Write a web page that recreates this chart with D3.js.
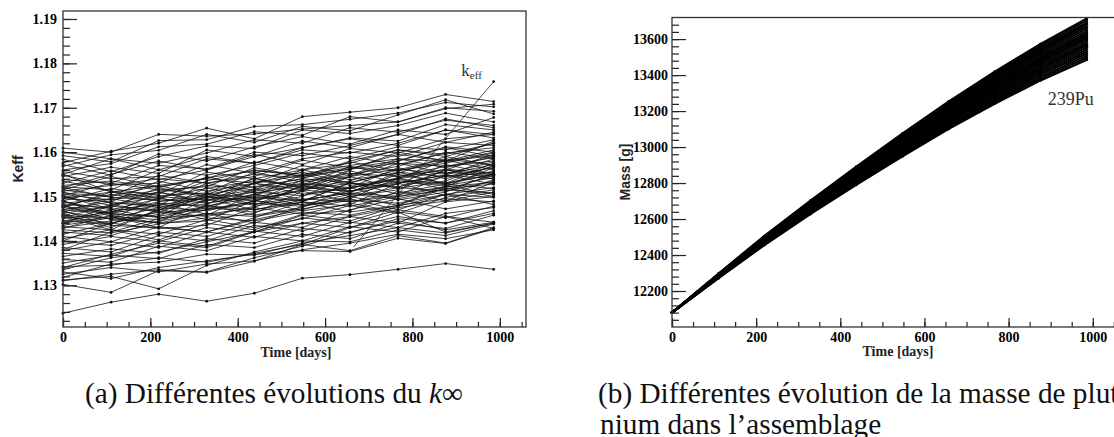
<!DOCTYPE html>
<html>
<head>
<meta charset="utf-8">
<script src="https://cdn.jsdelivr.net/npm/d3@7"></script>
<style>
  body { margin: 0; background: #fff; }
  svg { display: block; }
  .tick line { stroke: #222; stroke-width: 1.2; }
  .domain { display: none; }
</style>
</head>
<body>
<svg id="chart" width="1114" height="437"></svg>
<script>
/* DATA */
const times = [0, 110, 219, 329, 438, 548, 657, 767, 876, 986];

// k-eff runs, one array per run, one value per time step
const keffRuns = [
  [1.1609,1.1600,1.1640,1.1636,1.1641,1.1652,1.1660,1.1668,1.1700,1.1692],
  [1.1576,1.1602,1.1620,1.1654,1.1630,1.1680,1.1690,1.1700,1.1730,1.1714],
  [1.1592,1.1578,1.1626,1.1628,1.1658,1.1662,1.1674,1.1688,1.1712,1.1702],
  [1.1568,1.1594,1.1604,1.1640,1.1622,1.1658,1.1648,1.1684,1.1718,1.1686],
  [1.1560,1.1574,1.1612,1.1618,1.1646,1.1638,1.1680,1.1668,1.1698,1.1708],
  [1.1584,1.1556,1.1590,1.1614,1.1608,1.1650,1.1642,1.1660,1.1688,1.1668],
  [1.1550,1.1585,1.1575,1.1598,1.1628,1.1620,1.1655,1.1645,1.1672,1.1660],
  [1.1572,1.1548,1.1596,1.1580,1.1612,1.1635,1.1618,1.1650,1.1640,1.1678],
  [1.1545,1.1566,1.1552,1.1605,1.1590,1.1610,1.1632,1.1625,1.1662,1.1650],
  [1.1538,1.1530,1.1570,1.1562,1.1600,1.1592,1.1615,1.1640,1.1622,1.1645],
  [1.1556,1.1540,1.1545,1.1585,1.1575,1.1605,1.1598,1.1620,1.1650,1.1632],
  [1.1530,1.1558,1.1538,1.1560,1.1595,1.1572,1.1608,1.1598,1.1630,1.1640],
  [1.1522,1.1515,1.1560,1.1548,1.1570,1.1598,1.1585,1.1612,1.1605,1.1628],
  [1.1548,1.1526,1.1530,1.1572,1.1552,1.1585,1.1600,1.1590,1.1622,1.1615],
  [1.1515,1.1545,1.1522,1.1540,1.1578,1.1560,1.1575,1.1605,1.1595,1.1620],
  [1.1508,1.1500,1.1548,1.1530,1.1545,1.1582,1.1565,1.1580,1.1612,1.1600],
  [1.1535,1.1512,1.1505,1.1555,1.1540,1.1560,1.1590,1.1572,1.1598,1.1610],
  [1.1502,1.1530,1.1515,1.1522,1.1565,1.1545,1.1562,1.1595,1.1580,1.1605],
  [1.1495,1.1488,1.1535,1.1512,1.1530,1.1570,1.1550,1.1568,1.1600,1.1585],
  [1.1520,1.1498,1.1492,1.1545,1.1520,1.1540,1.1578,1.1558,1.1575,1.1598],
  [1.1490,1.1518,1.1502,1.1508,1.1555,1.1532,1.1548,1.1585,1.1565,1.1590],
  [1.1482,1.1475,1.1520,1.1498,1.1515,1.1560,1.1538,1.1552,1.1590,1.1570],
  [1.1510,1.1485,1.1480,1.1530,1.1508,1.1525,1.1568,1.1545,1.1560,1.1595],
  [1.1478,1.1505,1.1490,1.1495,1.1542,1.1518,1.1535,1.1575,1.1552,1.1578],
  [1.1470,1.1462,1.1510,1.1485,1.1500,1.1550,1.1525,1.1540,1.1582,1.1560],
  [1.1500,1.1472,1.1468,1.1520,1.1495,1.1512,1.1558,1.1530,1.1548,1.1585],
  [1.1465,1.1495,1.1478,1.1482,1.1530,1.1505,1.1520,1.1565,1.1540,1.1568],
  [1.1458,1.1450,1.1498,1.1472,1.1488,1.1538,1.1512,1.1528,1.1572,1.1550],
  [1.1490,1.1460,1.1455,1.1508,1.1482,1.1500,1.1545,1.1518,1.1535,1.1575],
  [1.1452,1.1482,1.1465,1.1470,1.1518,1.1492,1.1508,1.1555,1.1528,1.1558],
  [1.1445,1.1438,1.1485,1.1460,1.1475,1.1525,1.1500,1.1515,1.1560,1.1540],
  [1.1480,1.1448,1.1442,1.1495,1.1470,1.1488,1.1532,1.1505,1.1522,1.1565],
  [1.1440,1.1470,1.1452,1.1458,1.1505,1.1480,1.1495,1.1542,1.1515,1.1548],
  [1.1432,1.1425,1.1472,1.1448,1.1462,1.1512,1.1488,1.1502,1.1548,1.1528],
  [1.1468,1.1435,1.1430,1.1482,1.1458,1.1475,1.1520,1.1492,1.1510,1.1552],
  [1.1428,1.1458,1.1440,1.1445,1.1492,1.1468,1.1482,1.1530,1.1502,1.1538],
  [1.1420,1.1412,1.1445,1.1462,1.1440,1.1478,1.1495,1.1470,1.1505,1.1520],
  [1.1415,1.1440,1.1428,1.1435,1.1475,1.1460,1.1468,1.1512,1.1490,1.1532],
  [1.1410,1.1398,1.1432,1.1420,1.1452,1.1488,1.1465,1.1480,1.1525,1.1505],
  [1.1405,1.1425,1.1415,1.1448,1.1430,1.1450,1.1480,1.1462,1.1498,1.1515],
  [1.1398,1.1390,1.1420,1.1410,1.1442,1.1430,1.1470,1.1495,1.1472,1.1490],
  [1.1392,1.1410,1.1398,1.1430,1.1420,1.1458,1.1445,1.1478,1.1505,1.1482],
  [1.1385,1.1375,1.1412,1.1400,1.1435,1.1422,1.1455,1.1440,1.1488,1.1500],
  [1.1378,1.1398,1.1385,1.1420,1.1408,1.1440,1.1430,1.1465,1.1452,1.1478],
  [1.1372,1.1365,1.1400,1.1388,1.1422,1.1410,1.1442,1.1430,1.1462,1.1475],
  [1.1365,1.1382,1.1372,1.1405,1.1395,1.1428,1.1418,1.1450,1.1440,1.1468],
  [1.1358,1.1352,1.1388,1.1378,1.1410,1.1400,1.1432,1.1420,1.1455,1.1442],
  [1.1350,1.1368,1.1360,1.1392,1.1385,1.1415,1.1405,1.1440,1.1428,1.1458],
  [1.1342,1.1345,1.1362,1.1352,1.1372,1.1392,1.1378,1.1412,1.1395,1.1430],
  [1.1335,1.1362,1.1375,1.1398,1.1420,1.1440,1.1455,1.1475,1.1490,1.1510],
  [1.1325,1.1340,1.1330,1.1348,1.1355,1.1380,1.1395,1.1415,1.1405,1.1425],
  [1.1318,1.1348,1.1352,1.1370,1.1368,1.1395,1.1412,1.1430,1.1418,1.1440],
  [1.1330,1.1315,1.1340,1.1355,1.1370,1.1378,1.1376,1.1406,1.1394,1.1428],
  [1.1310,1.1325,1.1335,1.1330,1.1362,1.1388,1.1420,1.1445,1.1425,1.1442],
  [1.1302,1.1284,1.1333,1.1329,1.1354,1.1392,1.1430,1.1455,1.1440,1.1462],
  [1.1312,1.1320,1.1292,1.1345,1.1375,1.1400,1.1398,1.1425,1.1412,1.1438],
  [1.1237,1.1262,1.1280,1.1264,1.1282,1.1316,1.1324,1.1336,1.1349,1.1336],
  [1.1490,1.1455,1.1430,1.1420,1.1448,1.1470,1.1500,1.1480,1.1520,1.1500],
  [1.1440,1.1480,1.1510,1.1490,1.1530,1.1515,1.1545,1.1580,1.1610,1.1590],
  [1.1520,1.1550,1.1580,1.1560,1.1590,1.1625,1.1610,1.1640,1.1675,1.1655],
  [1.1460,1.1430,1.1470,1.1505,1.1540,1.1520,1.1560,1.1600,1.1580,1.1625],
  [1.1400,1.1440,1.1465,1.1500,1.1480,1.1525,1.1510,1.1550,1.1530,1.1570],
  [1.1550,1.1510,1.1525,1.1500,1.1530,1.1555,1.1530,1.1560,1.1585,1.1570],
  [1.1380,1.1420,1.1450,1.1478,1.1505,1.1490,1.1530,1.1520,1.1560,1.1548],
  [1.1475,1.1510,1.1495,1.1535,1.1560,1.1545,1.1580,1.1605,1.1590,1.1620],
  [1.1600,1.1585,1.1560,1.1590,1.1575,1.1610,1.1630,1.1615,1.1650,1.1640],
  [1.1340,1.1370,1.1395,1.1385,1.1420,1.1452,1.1440,1.1470,1.1455,1.1428],
  [1.1455,1.1425,1.1402,1.1440,1.1425,1.1460,1.1485,1.1465,1.1420,1.1440],
  [1.1475,1.1462,1.1480,1.1500,1.1492,1.1515,1.1530,1.1522,1.1545,1.1555],
  [1.1462,1.1478,1.1470,1.1490,1.1510,1.1502,1.1520,1.1538,1.1530,1.1550],
  [1.1488,1.1470,1.1495,1.1485,1.1505,1.1528,1.1518,1.1540,1.1555,1.1545],
  [1.1450,1.1465,1.1485,1.1478,1.1498,1.1490,1.1512,1.1532,1.1525,1.1542],
  [1.1505,1.1492,1.1510,1.1525,1.1515,1.1535,1.1552,1.1545,1.1568,1.1580],
  [1.1440,1.1455,1.1448,1.1470,1.1485,1.1478,1.1500,1.1520,1.1512,1.1535],
  [1.1495,1.1510,1.1498,1.1518,1.1535,1.1525,1.1545,1.1562,1.1550,1.1572],
  [1.1430,1.1445,1.1465,1.1455,1.1478,1.1495,1.1488,1.1508,1.1528,1.1518],
  [1.1515,1.1500,1.1525,1.1540,1.1530,1.1548,1.1565,1.1558,1.1580,1.1592],
  [1.1470,1.1488,1.1475,1.1498,1.1490,1.1515,1.1505,1.1530,1.1548,1.1540],
  [1.1485,1.1495,1.1515,1.1505,1.1522,1.1540,1.1532,1.1555,1.1545,1.1565],
  [1.1455,1.1440,1.1460,1.1478,1.1470,1.1492,1.1508,1.1500,1.1522,1.1532],
  [1.1525,1.1535,1.1520,1.1542,1.1558,1.1550,1.1570,1.1585,1.1578,1.1600],
  [1.1445,1.1462,1.1455,1.1475,1.1465,1.1488,1.1478,1.1500,1.1515,1.1508],
  [1.1500,1.1480,1.1500,1.1492,1.1512,1.1530,1.1520,1.1542,1.1562,1.1552],
  [1.1465,1.1450,1.1475,1.1468,1.1490,1.1482,1.1505,1.1495,1.1518,1.1528],
  [1.1435,1.1452,1.1440,1.1462,1.1455,1.1472,1.1492,1.1485,1.1505,1.1498],
  [1.1512,1.1525,1.1540,1.1530,1.1550,1.1542,1.1562,1.1575,1.1568,1.1588],
  [1.1478,1.1465,1.1488,1.1505,1.1498,1.1520,1.1512,1.1535,1.1528,1.1550],
  [1.1425,1.1418,1.1438,1.1452,1.1445,1.1465,1.1458,1.1480,1.1495,1.1488]
];

// leader line of the k_eff label: [time, keff] at both ends
const keffLeader = [[665, 1.1386], [986, 1.1759]];
const keffLabelAt = [912, 1.1772];

// 239Pu mass runs [g]
const puRuns = [
  [12080,12296,12506,12703,12891,13076,13253,13420,13574,13715],
  [12080,12295,12503,12699,12886,13070,13245,13411,13564,13704],
  [12080,12293,12501,12695,12881,13063,13238,13402,13554,13692],
  [12080,12292,12498,12692,12876,13057,13230,13393,13543,13681],
  [12080,12291,12496,12688,12871,13050,13222,13384,13533,13669],
  [12080,12290,12493,12684,12866,13044,13215,13375,13523,13658],
  [12080,12288,12490,12680,12860,13038,13207,13366,13513,13646],
  [12080,12287,12488,12676,12855,13031,13199,13357,13503,13635],
  [12080,12286,12485,12673,12850,13025,13191,13348,13492,13623],
  [12080,12284,12483,12669,12845,13018,13184,13339,13482,13612],
  [12080,12283,12480,12665,12840,13012,13176,13330,13472,13600],
  [12080,12282,12477,12661,12835,13006,13168,13321,13462,13589],
  [12080,12280,12475,12657,12830,12999,13161,13312,13452,13577],
  [12080,12279,12472,12654,12825,12993,13153,13303,13441,13566],
  [12080,12278,12470,12650,12820,12986,13145,13294,13431,13554],
  [12080,12277,12467,12646,12815,12980,13138,13285,13421,13543],
  [12080,12275,12464,12642,12809,12974,13130,13276,13411,13531],
  [12080,12274,12462,12638,12804,12967,13122,13267,13401,13520],
  [12080,12273,12459,12635,12799,12961,13114,13258,13390,13508],
  [12080,12271,12457,12631,12794,12954,13107,13249,13380,13497],
  [12080,12270,12454,12627,12789,12948,13099,13240,13370,13485],
  [12080,12290,12488,12672,12850,13024,13192,13348,13494,13625],
  [12080,12279,12470,12650,12822,12990,13150,13300,13440,13566],
  [12080,12294,12500,12693,12878,13058,13228,13390,13542,13684],
  [12080,12286,12481,12668,12844,13016,13180,13336,13478,13608]
];
const puLabelAt = [893, 13233];

const timeTicks = [0, 200, 400, 600, 800, 1000];
const timeMinor = d3.range(0, 1051, 50);
const keffTicks = [1.13, 1.14, 1.15, 1.16, 1.17, 1.18, 1.19];
const keffMinor = d3.range(1.122, 1.1915, 0.002);
const massTicks = [12200, 12400, 12600, 12800, 13000, 13200, 13400, 13600];
const massMinor = d3.range(12040, 13720, 40);

const svg = d3.select("#chart");
const tickFont = g => g.attr("font-family", "Liberation Serif, serif")
  .attr("font-weight", "bold").attr("font-size", 14).attr("fill", "#222");

/* LEFT PANEL: keff */
const xL = d3.scaleLinear().domain([0, 1060]).range([63, 526]);
const yL = d3.scaleLinear().domain([1.1206, 1.1918]).range([327, 11]);

const left = svg.append("g");
const keffLine = d3.line().x((d, i) => xL(times[i])).y(d => yL(d));

left.selectAll("path.run")
  .data(keffRuns)
  .join("path")
  .attr("class", "run")
  .attr("d", keffLine)
  .attr("fill", "none")
  .attr("stroke", "#111")
  .attr("stroke-width", 0.8);

left.selectAll("g.pts")
  .data(keffRuns)
  .join("g")
  .attr("class", "pts")
  .selectAll("circle")
  .data(d => d)
  .join("circle")
  .attr("cx", (d, i) => xL(times[i]))
  .attr("cy", d => yL(d))
  .attr("r", 1.4)
  .attr("fill", "#111");

// leader + label
left.append("line")
  .attr("x1", xL(keffLeader[0][0])).attr("y1", yL(keffLeader[0][1]))
  .attr("x2", xL(keffLeader[1][0])).attr("y2", yL(keffLeader[1][1]))
  .attr("stroke", "#222").attr("stroke-width", 0.8);
left.append("circle")
  .attr("cx", xL(keffLeader[1][0])).attr("cy", yL(keffLeader[1][1]))
  .attr("r", 1.4).attr("fill", "#111");
const kl = left.append("text")
  .attr("x", xL(keffLabelAt[0])).attr("y", yL(keffLabelAt[1]))
  .attr("font-family", "Liberation Serif, serif")
  .attr("font-size", 17).attr("fill", "#333");
kl.append("tspan").text("k");
kl.append("tspan").attr("dy", 3).attr("font-size", 11).text("eff");

// axes
left.append("g").attr("transform", "translate(0,327)")
  .call(d3.axisBottom(xL).tickValues(timeMinor).tickSize(-5).tickFormat(""));
left.append("g").attr("transform", "translate(0,327)")
  .call(d3.axisBottom(xL).tickValues(timeTicks).tickSize(-9).tickPadding(5).tickFormat(d3.format("d")))
  .call(tickFont);
left.append("g").attr("transform", "translate(63,0)")
  .call(d3.axisLeft(yL).tickValues(keffMinor).tickSize(-7).tickFormat(""));
left.append("g").attr("transform", "translate(63,0)")
  .call(d3.axisLeft(yL).tickValues(keffTicks).tickSize(-14).tickPadding(6).tickFormat(d3.format(".2f")))
  .call(tickFont);

left.append("rect")
  .attr("x", xL.range()[0]).attr("y", yL.range()[1])
  .attr("width", xL.range()[1] - xL.range()[0])
  .attr("height", yL.range()[0] - yL.range()[1])
  .attr("fill", "none").attr("stroke", "#333").attr("stroke-width", 1.3);

left.append("text")
  .attr("x", 296).attr("y", 357)
  .attr("text-anchor", "middle")
  .attr("font-family", "Liberation Serif, serif").attr("font-weight", "bold")
  .attr("font-size", 14).attr("fill", "#222")
  .text("Time [days]");
left.append("text")
  .attr("transform", "translate(23,169) rotate(-90)")
  .attr("text-anchor", "middle")
  .attr("font-family", "Liberation Sans, sans-serif").attr("font-weight", "bold")
  .attr("font-size", 14).attr("fill", "#222")
  .text("Keff");

/* RIGHT PANEL: 239Pu mass */
const xR = d3.scaleLinear().domain([0, 1060]).range([672, 1118]);
const yR = d3.scaleLinear().domain([12000, 13720]).range([327, 17.5]);

const right = svg.append("g");
const puLine = d3.line().x((d, i) => xR(times[i])).y(d => yR(d));

right.selectAll("path.run")
  .data(puRuns)
  .join("path")
  .attr("class", "run")
  .attr("d", puLine)
  .attr("fill", "none")
  .attr("stroke", "#000")
  .attr("stroke-width", 2);

right.selectAll("g.pts")
  .data(puRuns)
  .join("g")
  .attr("class", "pts")
  .selectAll("circle")
  .data(d => d)
  .join("circle")
  .attr("cx", (d, i) => xR(times[i]))
  .attr("cy", d => yR(d))
  .attr("r", 1.3)
  .attr("fill", "#000");

right.append("text")
  .attr("x", xR(puLabelAt[0])).attr("y", yR(puLabelAt[1]))
  .attr("font-family", "Liberation Serif, serif")
  .attr("font-size", 18).attr("fill", "#333")
  .text("239Pu");

right.append("g").attr("transform", "translate(0,327)")
  .call(d3.axisBottom(xR).tickValues(timeMinor).tickSize(-5).tickFormat(""));
right.append("g").attr("transform", "translate(0,327)")
  .call(d3.axisBottom(xR).tickValues(timeTicks).tickSize(-9).tickPadding(5).tickFormat(d3.format("d")))
  .call(tickFont);
right.append("g").attr("transform", "translate(672,0)")
  .call(d3.axisLeft(yR).tickValues(massMinor).tickSize(-7).tickFormat(""));
right.append("g").attr("transform", "translate(672,0)")
  .call(d3.axisLeft(yR).tickValues(massTicks).tickSize(-14).tickPadding(4).tickFormat(d3.format("d")))
  .call(tickFont);

right.append("rect")
  .attr("x", xR.range()[0]).attr("y", yR.range()[1])
  .attr("width", xR.range()[1] - xR.range()[0])
  .attr("height", yR.range()[0] - yR.range()[1])
  .attr("fill", "none").attr("stroke", "#333").attr("stroke-width", 1.3);

right.append("text")
  .attr("x", 898).attr("y", 356)
  .attr("text-anchor", "middle")
  .attr("font-family", "Liberation Serif, serif").attr("font-weight", "bold")
  .attr("font-size", 14).attr("fill", "#222")
  .text("Time [days]");
right.append("text")
  .attr("transform", "translate(630,172) rotate(-90)")
  .attr("text-anchor", "middle")
  .attr("font-family", "Liberation Sans, sans-serif").attr("font-weight", "bold")
  .attr("font-size", 14).attr("fill", "#222")
  .text("Mass [g]");

/* CAPTIONS */
const capFont = "Liberation Serif, serif";
const capA = svg.append("text")
  .attr("x", 85).attr("y", 403)
  .attr("font-family", capFont).attr("font-size", 24).attr("fill", "#111");
capA.append("tspan").text("(a) Différentes évolutions du ");
capA.append("tspan").attr("font-style", "italic").text("k");
capA.append("tspan").text("∞");

// fit caption size to the measured width in the reference (378 px)
const w = capA.node().getComputedTextLength();
const capSize = 24 * 378 / w;
capA.attr("font-size", capSize);

svg.append("text")
  .attr("x", 598).attr("y", 403)
  .attr("font-family", capFont).attr("font-size", capSize).attr("fill", "#111")
  .text("(b) Différentes évolution de la masse de pluto-");
svg.append("text")
  .attr("x", 600).attr("y", 434)
  .attr("font-family", capFont).attr("font-size", capSize).attr("fill", "#111")
  .text("nium dans l’assemblage");
</script>
</body>
</html>
